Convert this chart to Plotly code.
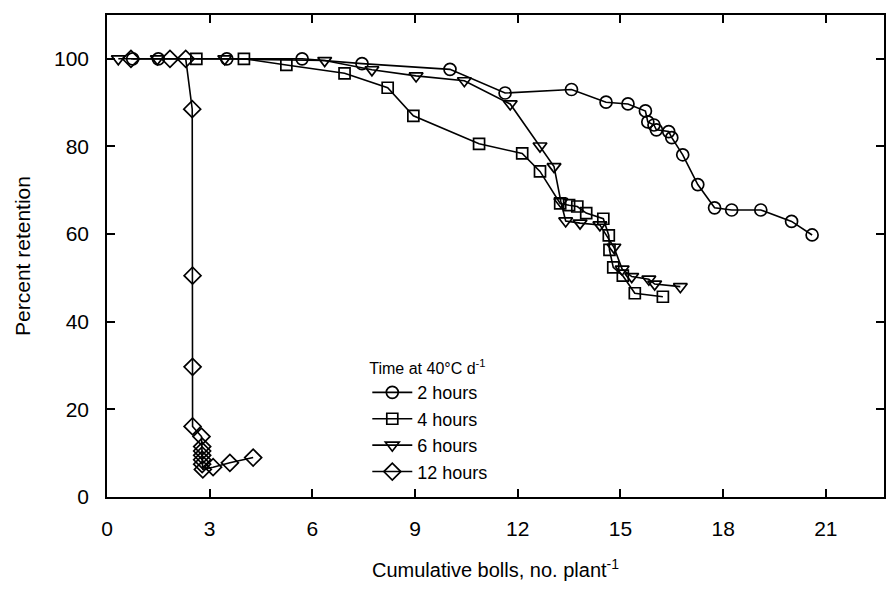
import plotly.graph_objects as go

# 2 hours (circles)
x2 = [0.75, 1.5, 3.5, 5.7, 7.45, 10.02, 11.63, 13.57, 14.58, 15.22, 15.73, 15.8, 15.98, 16.05, 16.41, 16.5, 16.82, 17.26, 17.75, 18.25, 19.1, 20.0, 20.6]
y2 = [100, 100, 100, 100, 98.9, 97.6, 92.2, 93.0, 90.1, 89.7, 88.1, 85.6, 84.9, 83.8, 83.4, 82.0, 78.1, 71.3, 66.0, 65.5, 65.5, 62.9, 59.8]

# 4 hours (squares)
x4 = [2.61, 4.0, 5.24, 6.94, 8.2, 8.95, 10.87, 12.13, 12.65, 13.24, 13.5, 13.74, 14.0, 14.5, 14.66, 14.68, 14.79, 15.07, 15.42, 16.24]
y4 = [100, 100, 98.6, 96.7, 93.4, 87.0, 80.6, 78.4, 74.3, 67.0, 66.6, 66.3, 64.8, 63.5, 59.7, 56.4, 52.4, 50.5, 46.5, 45.7]

# 6 hours (triangles)
x6 = [0.33, 1.47, 3.44, 6.36, 7.74, 9.03, 10.44, 11.78, 12.65, 13.06, 13.26, 13.4, 13.82, 14.4, 14.81, 15.05, 15.33, 15.83, 16.0, 16.75]
y6 = [100, 100, 100, 99.6, 97.5, 96.1, 95.0, 89.7, 80.1, 75.4, 67.4, 63.0, 62.5, 62.1, 57.0, 52.0, 50.3, 49.7, 48.6, 48.0]

# 12 hours (diamonds)
x12 = [0.7, 1.84, 2.3, 2.49, 2.5, 2.5, 2.5, 2.76, 2.78, 2.78, 2.78, 2.78, 2.78, 2.8, 3.1, 3.59, 4.27]
y12 = [100, 100, 100, 88.5, 50.5, 29.7, 16.1, 13.8, 11.5, 10.5, 9.5, 8.5, 7.5, 6.3, 6.8, 7.8, 9.0]

series = [
    ("2 hours", x2, y2, "circle-open", 12),
    ("4 hours", x4, y4, "square-open", 11),
    ("6 hours", x6, y6, "triangle-down-open", 12),
    ("12 hours", x12, y12, "diamond-open", 13),
]

fig = go.Figure()
for name, xs, ys, sym, sz in series:
    fig.add_trace(go.Scatter(
        x=xs, y=ys, mode="lines+markers", name=name,
        line=dict(color="black", width=1.6),
        marker=dict(symbol=sym, size=sz, color="black", line=dict(color="black", width=1.7)),
    ))

font = "Liberation Sans, Arial, sans-serif"
fig.update_layout(
    width=886, height=591,
    margin=dict(l=107, r=0, t=15, b=94),
    plot_bgcolor="white", paper_bgcolor="white",
    font=dict(family=font, color="black", size=18),
    showlegend=True,
    legend=dict(
        x=0.335, y=0.298, xanchor="left", yanchor="top",
        title=dict(text="Time at 40°C d<sup>-1</sup>", font=dict(size=16)),
        font=dict(size=18), bgcolor="rgba(0,0,0,0)",
        tracegroupgap=0, itemwidth=40,
    ),
)
fig.update_xaxes(
    range=[0, 22.7], tickvals=[0, 3, 6, 9, 12, 15, 18, 21],
    ticks="inside", ticklen=8, tickwidth=1.5, tickcolor="black",
    showline=True, linecolor="black", linewidth=1.5, mirror="ticks",
    showgrid=False, zeroline=False, ticklabelstandoff=12,
    title=dict(text="Cumulative bolls, no. plant<sup>-1</sup>", standoff=24, font=dict(size=20)),
    tickfont=dict(size=21),
)
fig.update_yaxes(
    range=[0, 110], tickvals=[0, 20, 40, 60, 80, 100],
    ticks="inside", ticklen=8, tickwidth=1.5, tickcolor="black",
    showline=True, linecolor="black", linewidth=1.5, mirror="ticks",
    showgrid=False, zeroline=False, ticklabelstandoff=12,
    title=dict(text="Percent retention", standoff=18, font=dict(size=21)),
    tickfont=dict(size=21),
)

fig.write_html("out.html")
